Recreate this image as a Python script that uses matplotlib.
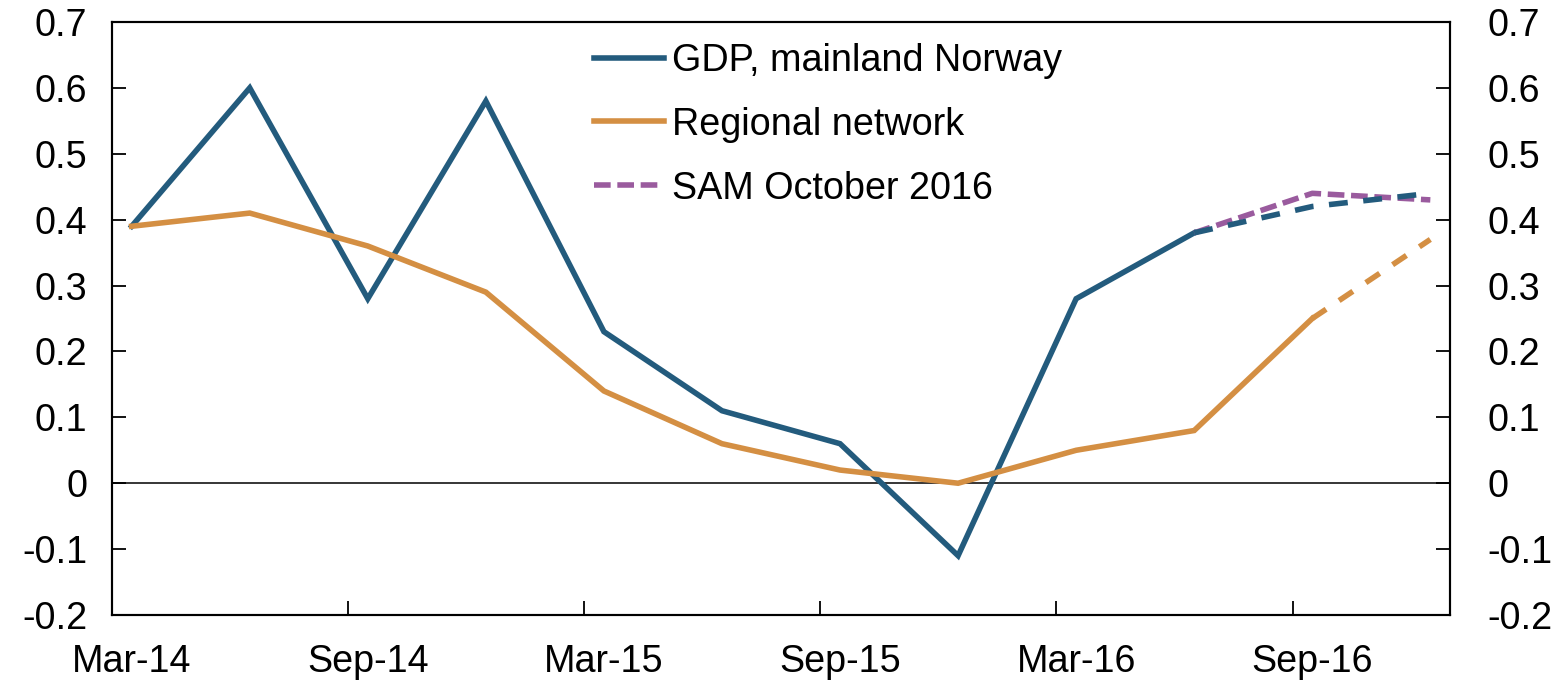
#!/usr/bin/env python3

import matplotlib
matplotlib.use('Agg')
import matplotlib.pyplot as plt
import numpy as np
import pandas as pd

plt.rcParams['font.family'] = ['Liberation Sans', 'DejaVu Sans']
plt.rcParams['axes.unicode_minus'] = False

# Quarterly observations, Mar-14 .. Dec-16
quarters = ['2014-03', '2014-06', '2014-09', '2014-12', '2015-03', '2015-06',
            '2015-09', '2015-12', '2016-03', '2016-06', '2016-09', '2016-12']
gdp = [0.39, 0.60, 0.28, 0.58, 0.23, 0.11, 0.06, -0.11, 0.28, 0.38]
gdp_proj = [0.38, 0.42, 0.44]          # Jun-16 .. Dec-16, dashed
regional = [0.39, 0.41, 0.36, 0.29, 0.14, 0.06, 0.02, 0.00, 0.05, 0.08, 0.25]
regional_proj = [0.25, 0.37]           # Sep-16 .. Dec-16, dashed
sam = [0.38, 0.44, 0.43]               # Jun-16 .. Dec-16

yticks = [-0.2, -0.1, 0, 0.1, 0.2, 0.3, 0.4, 0.5, 0.6, 0.7]

BLUE = '#235B7D'
ORANGE = '#D48F43'
PURPLE = '#9A5B9E'
FS = 27.2


def main():
    '''Main function'''
    months = pd.period_range('2014-03', '2016-12', freq='M')
    pos = {str(m): i for i, m in enumerate(months)}
    xq = np.array([pos[q] for q in quarters])

    fig = plt.figure(figsize=(15.59, 6.8), dpi=100)
    ax = fig.add_axes([112 / 1559, 1 - 615 / 680, 1338 / 1559, 593 / 680])

    lw = 4.0
    ax.axhline(0, color='black', lw=1.1, zorder=1)
    ax.plot(xq[:len(gdp)], gdp, color=BLUE, lw=lw, label='GDP, mainland Norway',
            solid_joinstyle='miter', zorder=3)
    ax.plot(xq[:len(regional)], regional, color=ORANGE, lw=lw, label='Regional network',
            solid_joinstyle='miter', zorder=3)
    ax.plot(xq[-2:], regional_proj, color=ORANGE, lw=lw, linestyle=(0, (3.0, 2.8)), zorder=3)
    ax.plot(xq[-3:], sam, color=PURPLE, lw=lw, linestyle=(0, (3.0, 1.2)),
            label='SAM October 2016', zorder=3)
    ax.plot(xq[-3:], gdp_proj, color=BLUE, lw=lw, linestyle=(0, (3.4, 2.8)), zorder=4)

    ax.set_xlim(-0.5, len(months) - 0.5)
    ax.set_ylim(-0.2, 0.7)

    # x axis: ticks at half-year boundaries, labels centred on the month
    ax.set_xticks(np.arange(-0.5, len(months), 6))
    ax.set_xticklabels([])
    ax.set_xticks(np.arange(0, len(months), 6), minor=True)
    ax.set_xticklabels([months[i].strftime('%b-%y') for i in range(0, len(months), 6)],
                       minor=True)
    ax.tick_params(axis='x', which='major', direction='in', length=10, width=1.3)
    ax.tick_params(axis='x', which='minor', length=0, pad=21, labelsize=FS)

    ax.set_yticks(yticks)
    ax.set_yticklabels([f'{v:g}' for v in yticks])
    ax.tick_params(axis='y', direction='in', length=10, width=1.3, pad=18, labelsize=FS)

    ax2 = ax.twinx()
    ax2.set_ylim(ax.get_ylim())
    ax2.set_yticks(yticks)
    ax2.set_yticklabels([f'{v:g}' for v in yticks])
    ax2.tick_params(axis='y', direction='in', length=10, width=1.3, pad=27, labelsize=FS)

    for a in (ax, ax2):
        for s in a.spines.values():
            s.set_linewidth(1.5)

    ax.legend(loc='upper left', bbox_to_anchor=(0.360, 0.965), frameon=False,
              fontsize=FS, handlelength=1.85, handletextpad=0.22, labelspacing=0.74,
              borderpad=0, borderaxespad=0)

    plt.savefig('out.png', dpi=100)


if __name__ == '__main__':
    main()
